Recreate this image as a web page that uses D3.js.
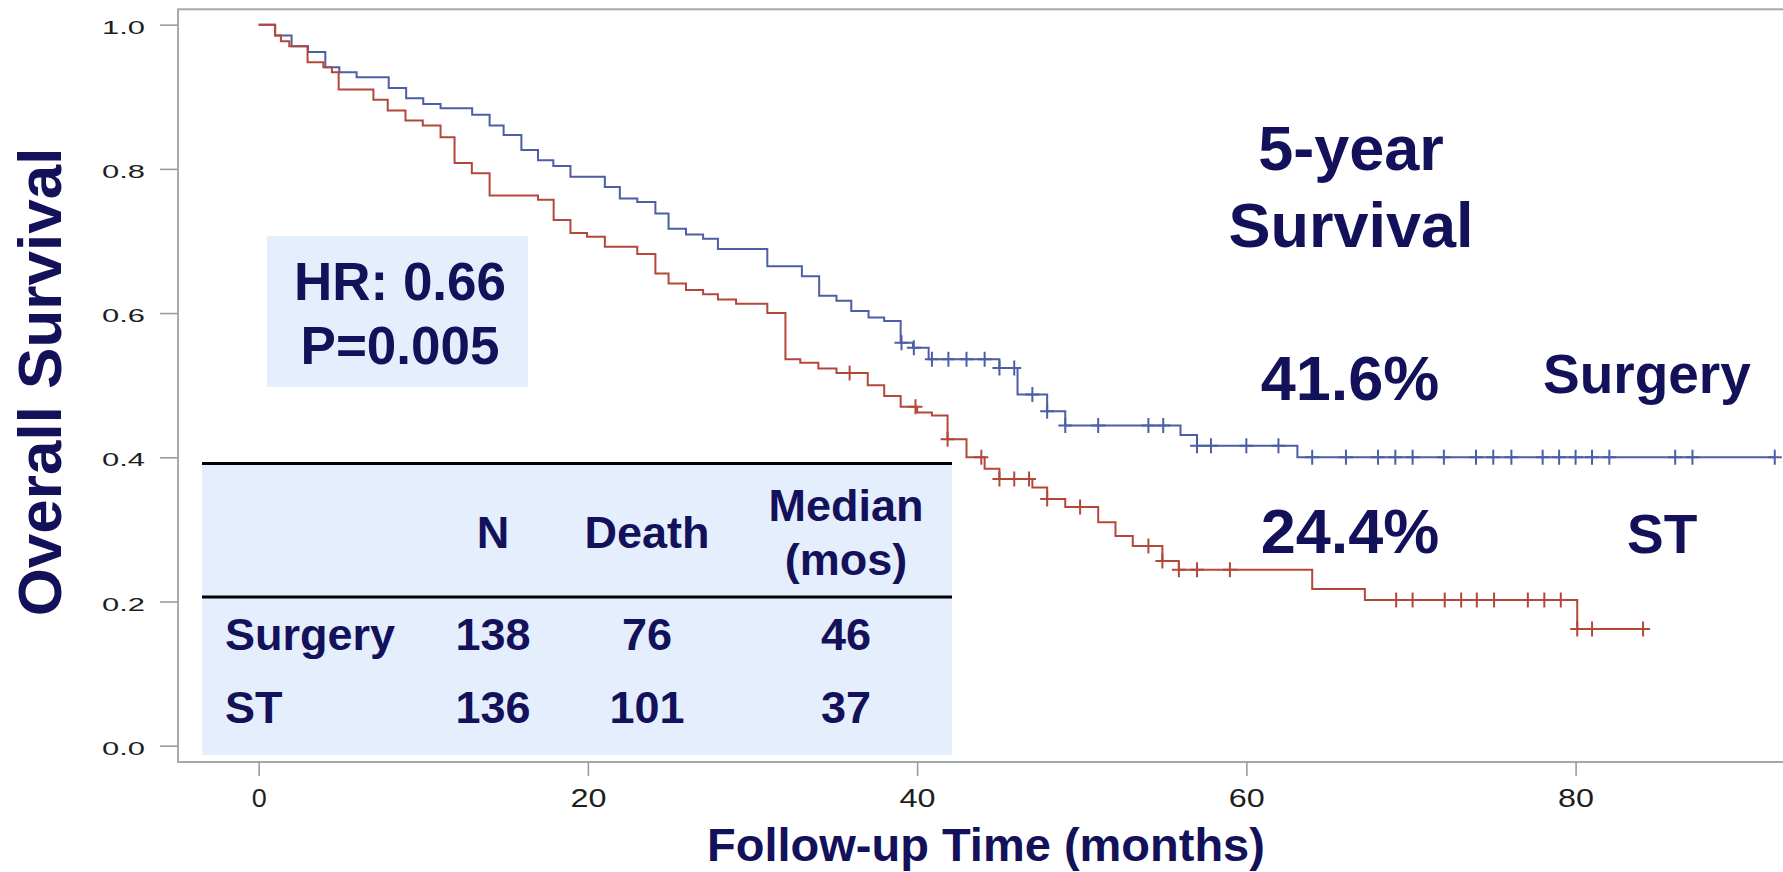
<!DOCTYPE html>
<html>
<head>
<meta charset="utf-8">
<script src="https://cdn.jsdelivr.net/npm/d3@7"></script>
<style>
  html, body { margin: 0; padding: 0; background: #fff; }
  svg { display: block; }
</style>
</head>
<body>
<svg id="chart" width="1783" height="872"></svg>
<script>
// ---------- data ----------
const xTickValues = [0, 20, 40, 60, 80];
const yTickValues = [0, 0.2, 0.4, 0.6, 0.8, 1.0];

// Kaplan-Meier steps: time (months) of each drop and the survival after it
const surgeryTimes = [1.0, 2.0, 3.0, 4.05, 4.9, 5.95, 7.9, 8.96, 10.0, 11.05, 12.97, 14.03, 14.88, 15.96,
  16.97, 17.9, 18.94, 21.03, 21.94, 23.0, 24.1, 24.9, 25.96, 27.0, 27.9, 30.9, 33.0, 34.05, 35.1, 36.0,
  37.05, 38.0, 39.0, 39.75, 40.7, 45.0, 46.1, 47.9, 49.0, 56.0, 57.0, 63.1];
const surgerySurvival = [0.985, 0.970, 0.962, 0.941, 0.934, 0.927, 0.912, 0.898, 0.890, 0.884, 0.875, 0.860,
  0.847, 0.826, 0.812, 0.804, 0.789, 0.775, 0.759, 0.754, 0.738, 0.717, 0.709, 0.703, 0.689, 0.665, 0.651,
  0.624, 0.617, 0.603, 0.594, 0.589, 0.559, 0.552, 0.536, 0.524, 0.487, 0.464, 0.444, 0.431, 0.416, 0.400];
const surgeryCensored = [39.05, 39.8, 40.9, 41.9, 43.0, 44.1, 45.0, 45.9, 47.0, 47.9, 49.0, 51.0, 54.05, 54.95,
  57.0, 57.85, 60.0, 61.95, 64.0, 66.05, 68.0, 69.05, 70.1, 72.0, 73.95, 75.0, 76.1, 78.0, 79.0, 80.0, 81.0,
  82.05, 86.05, 87.1, 92.1];

const stTimes = [1.0, 1.35, 1.86, 2.97, 3.93, 4.45, 4.86, 6.97, 7.84, 8.92, 9.97, 11.05, 11.9, 12.95, 14.03,
  16.97, 17.92, 18.94, 19.95, 21.03, 23.0, 24.1, 24.9, 25.96, 27.0, 27.9, 29.0, 30.9, 32.0, 32.9, 34.0, 35.1,
  37.0, 38.0, 39.0, 40.0, 40.9, 41.85, 43.0, 44.1, 45.0, 47.0, 47.9, 49.0, 51.0, 52.05, 53.1, 54.9, 55.9,
  64.0, 67.2, 80.1];
const stSurvival = [0.985, 0.977, 0.970, 0.948, 0.941, 0.934, 0.910, 0.896, 0.881, 0.867, 0.860, 0.844, 0.808,
  0.794, 0.763, 0.757, 0.729, 0.711, 0.706, 0.692, 0.682, 0.655, 0.641, 0.632, 0.626, 0.619, 0.613, 0.600,
  0.536, 0.531, 0.523, 0.517, 0.500, 0.485, 0.470, 0.462, 0.458, 0.425, 0.400, 0.384, 0.370, 0.358, 0.342,
  0.331, 0.310, 0.291, 0.277, 0.256, 0.244, 0.2175, 0.202, 0.162];
const stCensored = [35.9, 39.9, 41.85, 43.9, 45.0, 45.9, 46.8, 47.9, 49.9, 54.05, 54.9, 55.9, 57.0, 59.0,
  69.1, 70.1, 72.05, 73.05, 74.0, 75.05, 77.1, 78.1, 79.1, 80.1, 81.0, 84.1];

const groupNames = ["Surgery", "ST"];
const tableN = [138, 136];
const tableDeaths = [76, 101];
const tableMedian = [46, 37];
const fiveYearRates = ["41.6%", "24.4%"];
const statLines = ["HR: 0.66", "P=0.005"];

// ---------- styling ----------
const NAVY = "#13115a";
const BOLD = "'Liberation Sans', Arial, Helvetica, sans-serif";
const BLUE = "#4b5ea6";
const RED = "#b4473a";
const PANEL = "#e4eefd";
const FRAME = "#a4a9aa";

const svg = d3.select("#chart");

const x = d3.scaleLinear().domain([-4.9, 92.6]).range([178, 1783]);
const y = d3.scaleLinear().domain([-0.0226, 1.0213]).range([762, 9.3]);

// plot frame (right side runs past the page edge)
svg.append("rect")
  .attr("x", 178).attr("y", 9.3)
  .attr("width", 1700).attr("height", 752.7)
  .attr("fill", "none").attr("stroke", FRAME).attr("stroke-width", 2);

// y axis
const yAxis = svg.append("g")
  .attr("transform", "translate(178,0)")
  .call(d3.axisLeft(y).tickValues(yTickValues).tickFormat(d3.format(".1f"))
    .tickSize(18).tickPadding(15).tickSizeOuter(0));
yAxis.select(".domain").remove();
yAxis.selectAll(".tick line").attr("stroke", "#9a9d9d").attr("stroke-width", 1.6);
yAxis.selectAll(".tick text")
  .attr("dy", "0.45em")
  .attr("fill", "#1e1e1e")
  .style("font-family", BOLD).style("font-size", "19px")
  .attr("textLength", 43).attr("lengthAdjust", "spacingAndGlyphs");

// x axis
const xAxis = svg.append("g")
  .attr("transform", "translate(0,762)")
  .call(d3.axisBottom(x).tickValues(xTickValues).tickFormat(d3.format("d"))
    .tickSize(14).tickSizeOuter(0));
xAxis.select(".domain").remove();
xAxis.selectAll(".tick line").attr("stroke", "#9a9d9d").attr("stroke-width", 1.6);
xAxis.selectAll(".tick text")
  .attr("y", 45).attr("dy", 0)
  .attr("fill", "#1e1e1e")
  .style("font-family", BOLD).style("font-size", "25px")
  .attr("textLength", d => d === 0 ? 15 : 36)
  .attr("lengthAdjust", "spacingAndGlyphs");

// axis titles
svg.append("text")
  .attr("x", 986).attr("y", 861)
  .attr("text-anchor", "middle")
  .attr("fill", NAVY).style("font-family", BOLD).style("font-weight", "bold")
  .style("font-size", "47px")
  .text("Follow-up Time (months)");

svg.append("text")
  .attr("transform", "translate(61,382) rotate(-90)")
  .attr("text-anchor", "middle")
  .attr("fill", NAVY).style("font-family", BOLD).style("font-weight", "bold")
  .style("font-size", "62px")
  .text("Overall Survival");

// hazard ratio box
svg.append("rect")
  .attr("x", 267).attr("y", 236).attr("width", 261).attr("height", 151)
  .attr("fill", PANEL);
svg.selectAll("text.stat").data(statLines).enter().append("text")
  .attr("class", "stat")
  .attr("x", 400).attr("y", (d, i) => 300 + i * 64)
  .attr("text-anchor", "middle")
  .attr("fill", NAVY).style("font-family", BOLD).style("font-weight", "bold")
  .style("font-size", "53px")
  .text(d => d);

// summary table
svg.append("rect")
  .attr("x", 202).attr("y", 463).attr("width", 750).attr("height", 292)
  .attr("fill", PANEL);
[463.5, 597].forEach(yy => {
  svg.append("line")
    .attr("x1", 202).attr("x2", 952).attr("y1", yy).attr("y2", yy)
    .attr("stroke", "#000").attr("stroke-width", 3);
});
const colCentre = { N: 493, Death: 647, Median: 846 };
const tableText = (txt, xx, yy, anchor) => svg.append("text")
  .attr("x", xx).attr("y", yy).attr("text-anchor", anchor || "middle")
  .attr("fill", NAVY).style("font-family", BOLD).style("font-weight", "bold")
  .style("font-size", "45px").text(txt);
tableText("N", colCentre.N, 548);
tableText("Death", colCentre.Death, 548);
tableText("Median", colCentre.Median, 521);
tableText("(mos)", colCentre.Median, 575);
groupNames.forEach((g, i) => {
  const yy = 650 + i * 73;
  tableText(g, 225, yy, "start");
  tableText(String(tableN[i]), colCentre.N, yy);
  tableText(String(tableDeaths[i]), colCentre.Death, yy);
  tableText(String(tableMedian[i]), colCentre.Median, yy);
});

// survival curves
function survivalAt(times, surv, t) {
  let s = 1;
  times.forEach((tt, i) => { if (tt <= t) s = surv[i]; });
  return s;
}
function stepPoints(times, surv, end) {
  const pts = [[0, 1]];
  times.forEach((t, i) => pts.push([t, surv[i]]));
  pts.push([end, surv[surv.length - 1]]);
  return pts;
}
const line = d3.line().x(d => x(d[0])).y(d => y(d[1])).curve(d3.curveStepAfter);

const series = [
  { times: surgeryTimes, surv: surgerySurvival, cens: surgeryCensored, color: BLUE },
  { times: stTimes, surv: stSurvival, cens: stCensored, color: RED }
];
series.forEach(sr => {
  const end = d3.max(sr.cens);
  svg.append("path")
    .attr("d", line(stepPoints(sr.times, sr.surv, end)))
    .attr("fill", "none").attr("stroke", sr.color).attr("stroke-width", 2);
  svg.append("g").selectAll("path").data(sr.cens).enter().append("path")
    .attr("d", t => {
      const cx = x(t), cy = y(survivalAt(sr.times, sr.surv, t));
      return `M${cx - 7},${cy}H${cx + 7}M${cx},${cy - 7.5}V${cy + 7.5}`;
    })
    .attr("fill", "none").attr("stroke", sr.color).attr("stroke-width", 2);
});

// five-year survival annotations
const bigText = (txt, xx, yy, size, anchor) => svg.append("text")
  .attr("x", xx).attr("y", yy).attr("text-anchor", anchor || "middle")
  .attr("fill", NAVY).style("font-family", BOLD).style("font-weight", "bold")
  .style("font-size", size + "px").text(txt);
bigText("5-year", 1351, 170, 63);
bigText("Survival", 1351, 247, 63);
bigText(fiveYearRates[0], 1350, 400, 63);
bigText(fiveYearRates[1], 1350, 553, 63);
bigText(groupNames[0], 1543, 393, 55, "start");
bigText(groupNames[1], 1627, 553, 55, "start");
</script>
</body>
</html>
